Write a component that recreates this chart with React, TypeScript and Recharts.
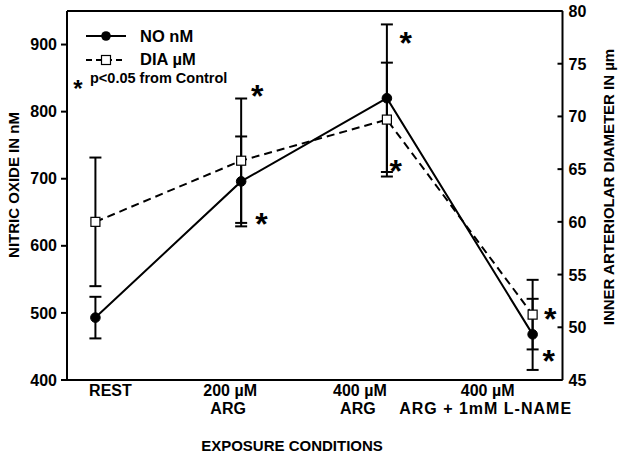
import React from 'react';
import { ComposedChart, Line, XAxis, YAxis, ErrorBar, Scatter, ReferenceLine, Customized } from 'recharts';

const catLine1 = ['REST', '200 µM', '400 µM', '400 µM'];
const catLine2 = ['', 'ARG', 'ARG', 'ARG + 1mM L-NAME'];
const noValues = [493, 696, 820, 468];
const noErrors = [31, 67, 110, 53];
const diaValues = [60.0, 65.8, 69.7, 51.2];
const diaErrors = [6.1, 5.9, 5.4, 3.3];
const leftTicks = [400, 500, 600, 700, 800, 900];
const rightTicks = [45, 50, 55, 60, 65, 70, 75, 80];
const starX = [1.11, 1.14, 2.13, 2.06, 3.12, 3.11];
const starY = [830, 638, 908, 717, 497, 434];

const labelDx = [15, -11, -27, -45];

const data = catLine1.map((_, i) => ({
  x: i,
  no: noValues[i],
  noErr: noErrors[i],
  dia: diaValues[i],
  diaErr: diaErrors[i],
}));
const starData = starX.map((x, i) => ({ x, y: starY[i] }));

const FONT = '"Liberation Sans", Arial, Helvetica, sans-serif';

const XTick = (props: any) => {
  const { x, y, payload } = props;
  const i = Math.round(payload.value);
  return (
    <text x={x + labelDx[i]} y={y} textAnchor="middle" fontFamily={FONT} fontWeight="bold" fontSize={16} fill="#000">
      <tspan x={x + labelDx[i]} dy={16}>{catLine1[i]}</tspan>
      <tspan x={x + labelDx[i] - 2} dy={18} letterSpacing={i === 3 ? 1 : 0}>{catLine2[i]}</tspan>
    </text>
  );
};

const RightTick = (props: any) => {
  const { x, y, payload } = props;
  return (
    <g>
      <line x1={x - 5} y1={y} x2={x} y2={y} stroke="#000" strokeWidth={2} />
      <text x={x + 6} y={y + 6} textAnchor="start" fontFamily={FONT} fontWeight="bold" fontSize={16} fill="#000">
        {payload.value}
      </text>
    </g>
  );
};

const CircleDot = (props: any) => {
  const { cx, cy } = props;
  if (cx == null || cy == null) return null;
  return <circle cx={cx} cy={cy} r={4.8} fill="#000" stroke="#000" />;
};

const SquareDot = (props: any) => {
  const { cx, cy } = props;
  if (cx == null || cy == null) return null;
  return <rect x={cx - 4.5} y={cy - 4.5} width={9} height={9} fill="#fff" stroke="#000" strokeWidth={1.2} />;
};

const StarShape = (props: any) => {
  const { cx, cy } = props;
  return (
    <text x={cx} y={cy} dy={15} textAnchor="middle" fontFamily={FONT} fontWeight="bold" fontSize={32} fill="#000">*</text>
  );
};

const Decorations = () => (
  <g fontFamily={FONT} fontWeight="bold" fill="#000">
    <line x1={86} y1={36} x2={126} y2={36} stroke="#000" strokeWidth={2} />
    <circle cx={106} cy={36} r={4.8} fill="#000" />
    <text x={140} y={42} fontSize={16.5}>NO nM</text>
    <line x1={86} y1={60} x2={126} y2={60} stroke="#000" strokeWidth={2} strokeDasharray="6 4" />
    <rect x={101.5} y={55.5} width={9} height={9} fill="#fff" stroke="#000" strokeWidth={1.2} />
    <text x={140} y={65} fontSize={16.5}>{'DIA µM'}</text>
    <text x={78} y={97} fontSize={24} textAnchor="middle">*</text>
    <text x={90} y={83} fontSize={14.5}>p&lt;0.05 from Control</text>
    <text x={19} y={185} fontSize={15} textAnchor="middle" transform="rotate(-90 19 185)">NITRIC OXIDE IN nM</text>
    <text x={614} y={187} fontSize={15} textAnchor="middle" transform="rotate(-90 614 187)">{'INNER ARTERIOLAR DIAMETER IN µm'}</text>
    <text x={292} y={451} fontSize={15} textAnchor="middle">EXPOSURE CONDITIONS</text>
  </g>
);

export default function App() {
  return (
    <div style={{ position: 'absolute', left: 0, top: 0, width: 625, height: 456, background: '#fff' }}>
      <ComposedChart width={625} height={456} data={data} margin={{ top: 11, right: 0, bottom: 0, left: 0 }}>
        <XAxis
          dataKey="x"
          type="number"
          domain={[-0.195, 3.205]}
          ticks={[0, 1, 2, 3]}
          height={76}
          tickLine={false}
          tickSize={0}
          tickMargin={0}
          tick={<XTick />}
          axisLine={{ stroke: '#000', strokeWidth: 2 }}
          allowDataOverflow
        />
        <YAxis
          yAxisId="left"
          width={67}
          domain={[400, 950]}
          ticks={leftTicks}
          tickSize={6}
          tickMargin={4}
          axisLine={{ stroke: '#000', strokeWidth: 2 }}
          tickLine={{ stroke: '#000', strokeWidth: 2 }}
          tick={{ fill: '#000', fontSize: 16, fontWeight: 'bold', fontFamily: FONT }}
          allowDataOverflow
        />
        <YAxis
          yAxisId="right"
          orientation="right"
          width={62.5}
          domain={[45, 80]}
          ticks={rightTicks}
          tickSize={0}
          tickMargin={0}
          tickLine={false}
          axisLine={{ stroke: '#000', strokeWidth: 2 }}
          tick={<RightTick />}
          allowDataOverflow
        />
        <ReferenceLine yAxisId="left" y={950} stroke="#000" strokeWidth={2} />
        <Line
          yAxisId="right"
          dataKey="dia"
          stroke="#000"
          strokeWidth={2}
          strokeDasharray="8 5"
          dot={<SquareDot />}
          activeDot={false}
          isAnimationActive={false}
        >
          <ErrorBar dataKey="diaErr" width={6} stroke="#000" strokeWidth={2} direction="y" />
        </Line>
        <Line
          yAxisId="left"
          dataKey="no"
          stroke="#000"
          strokeWidth={2}
          dot={<CircleDot />}
          activeDot={false}
          isAnimationActive={false}
        >
          <ErrorBar dataKey="noErr" width={6} stroke="#000" strokeWidth={2} direction="y" />
        </Line>
        <Scatter yAxisId="left" data={starData} dataKey="y" shape={<StarShape />} isAnimationActive={false} />
        <Customized component={<Decorations />} />
      </ComposedChart>
    </div>
  );
}
